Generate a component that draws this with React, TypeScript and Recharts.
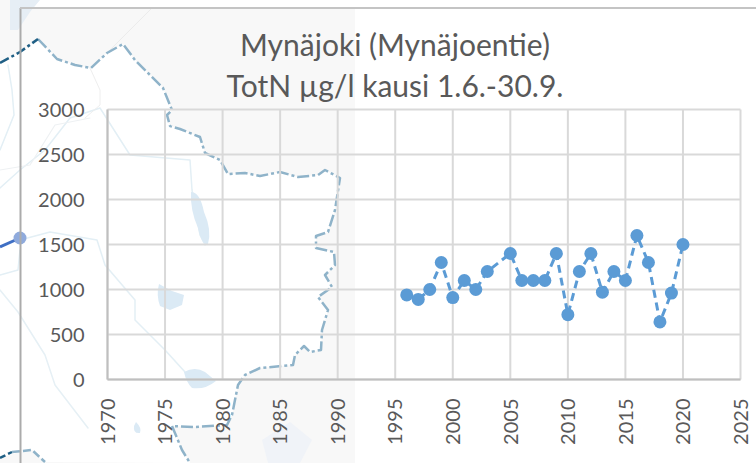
import React from 'react';
import { LineChart, Line, XAxis, YAxis, CartesianGrid } from 'recharts';

const years = [1996, 1997, 1998, 1999, 2000, 2001, 2002, 2003, 2005, 2006, 2007, 2008, 2009, 2010, 2011, 2012, 2013, 2014, 2015, 2016, 2017, 2018, 2019, 2020];
const totN = [940, 890, 1000, 1300, 910, 1100, 1000, 1200, 1400, 1100, 1100, 1100, 1400, 720, 1200, 1400, 970, 1200, 1100, 1600, 1300, 640, 960, 1500];
const xTicks = [1970, 1975, 1980, 1985, 1990, 1995, 2000, 2005, 2010, 2015, 2020, 2025];
const yTicks = [0, 500, 1000, 1500, 2000, 2500, 3000];
const titleLines = ['Mynäjoki (Mynäjoentie)', 'TotN µg/l kausi 1.6.-30.9.'];
const data = years.map((year, i) => ({ year, totN: totN[i] }));

const FONT = 'Lato, "Open Sans", sans-serif';

const border = 'M38 39 L57 59 L75 65 L91 68 L107 53 L123 44 L135 60 L150 75 L163 88 L172 110 L167 115 L170 126 L180 129 L200 137 L205 153 L220 160 L228 174 L245 173 L260 176 L280 172 L298 177 L318 175 L325 170 L340 178 L335 210 L328 232 L316 236 L316 248 L334 252 L335 265 L325 275 L332 287 L318 297 L328 310 L322 330 L321 350 L310 352 L304 346 L295 355 L293 365 L260 368 L245 375 L238 385 L232 415 L227 425 L195 427 L172 426 L182 450 L190 463';
const interior = border + ' L45 462 L32 450 L20 452 L0 458 L0 63 L20 52 Z';

function MapBackground() {
  return (
    <svg width={756} height={463} style={{ position: 'absolute', left: 0, top: 0 }}>
      <rect x={0} y={0} width={355} height={463} fill="#f8f8f8" />
      <rect x={20} y={0} width={340} height={8} fill="#fff" />
      <path d={interior} fill="#fff" />
      <path d="M10 0 L40 0 L30 12 L18 30 L10 30 Z" fill="#e6eef5" />
      <g fill="none" strokeLinejoin="round" strokeLinecap="round">
        <path d="M0 150 L14 115 L12 90 L8 65" stroke="#e3eff5" strokeWidth={1.5} />
        <path d="M0 188 L20 170 L45 150 L70 118 L100 108 L130 155 L190 160 L192 190 L200 235 L205 245" stroke="#e3eff5" strokeWidth={1.5} />
        <path d="M0 170 L30 165 L55 125 L90 118" stroke="#eef1f3" strokeWidth={1.2} />
        <path d="M90 68 L100 90 L100 105 L85 118" stroke="#eeeeee" strokeWidth={1} />
        <path d="M107 53 L152 8" stroke="#ececec" strokeWidth={1} />
        <path d="M20 240 L50 232 L97 240 L105 265 L135 300 L135 320 L165 350 L185 372" stroke="#e3eff5" strokeWidth={1.5} />
        <path d="M0 275 L18 270 L20 250" stroke="#e3eff5" strokeWidth={1.5} />
        <path d="M0 290 L18 312 L45 355 L55 385 L88 428" stroke="#e6f0f5" strokeWidth={1.5} />
      </g>
      <path d="M191 192 Q200 192 204 212 Q212 230 208 244 Q202 246 198 228 Q190 210 191 192 Z" fill="#dbeaf5" />
      <path d="M159 284 L172 291 L184 295 L182 305 L170 310 L160 306 Q156 295 159 284 Z" fill="#dbeaf5" />
      <path d="M184 372 Q195 366 205 372 L216 381 Q205 390 192 388 Q186 382 184 372 Z" fill="#dbeaf5" />
      <path d="M136 422 Q142 428 140 433 Q133 434 134 426 Z" fill="#dbeaf5" />
      <path d="M262 440 L290 422 L312 440 L300 463 L268 463 Z" fill="#f0f3f8" />
      <path d={border} fill="none" stroke="#8fb3c9" strokeWidth={2.5} strokeDasharray="12 3 3 3" strokeLinejoin="round" />
      <path d="M0 63 L20 52 L38 39" fill="none" stroke="#1f5f85" strokeWidth={2.5} strokeDasharray="10 3 3 3" />
      <path d="M0 458 L12 452" fill="none" stroke="#1f5f85" strokeWidth={2.5} strokeDasharray="6 3" />
      <path d="M12 452 L32 450 L45 462" fill="none" stroke="#8fb3c9" strokeWidth={2.5} strokeDasharray="8 3" />
      <line x1={0} y1={247} x2={20} y2={238} stroke="#3f6fc4" strokeWidth={3} />
      <circle cx={20} cy={238} r={6.5} fill="#8faadc" />
      <line x1={20.5} y1={8} x2={20.5} y2={463} stroke="#ababab" strokeWidth={2} />
      <line x1={20} y1={8} x2={756} y2={8} stroke="#c4c4c4" strokeWidth={2} />
    </svg>
  );
}

export default function App() {
  return (
    <div style={{ position: 'absolute', left: 0, top: 0, width: 756, height: 463, overflow: 'hidden', background: '#fff' }}>
      <MapBackground />
      <div style={{ position: 'absolute', left: 35, width: 720, top: 24, textAlign: 'center', fontFamily: FONT, fontSize: 30, lineHeight: '41px', color: '#595959' }}>
        {titleLines.map((t) => <div key={t}>{t}</div>)}
      </div>
      <div style={{ position: 'absolute', left: 0, top: 0 }}>
        <LineChart width={756} height={463} data={data} margin={{ top: 109.5, right: 15.5, bottom: 0, left: 0 }}>
          <CartesianGrid stroke="#d9d9d9" strokeWidth={2} />
          <XAxis
            dataKey="year"
            type="number"
            domain={[1970, 2025]}
            ticks={xTicks}
            interval={0}
            height={83.5}
            axisLine={{ stroke: '#bfbfbf', strokeWidth: 2 }}
            tickLine={false}
            angle={-90}
            textAnchor="end"
            tickMargin={13}
            tick={{ fill: '#595959', fontSize: 20, fontFamily: FONT, dx: -7 }}
          />
          <YAxis
            domain={[0, 3000]}
            ticks={yTicks}
            width={107.5}
            axisLine={{ stroke: '#bfbfbf', strokeWidth: 2 }}
            tickLine={false}
            tickMargin={17}
            interval={0}
            tick={{ fill: '#595959', fontSize: 20, fontFamily: FONT }}
          />
          <Line
            dataKey="totN"
            stroke="#5b9bd5"
            strokeWidth={3}
            strokeDasharray="8 5"
            dot={{ r: 6.5, fill: '#5b9bd5', stroke: '#5b9bd5', strokeWidth: 0, strokeDasharray: '' }}
            isAnimationActive={false}
          />
        </LineChart>
      </div>
    </div>
  );
}
